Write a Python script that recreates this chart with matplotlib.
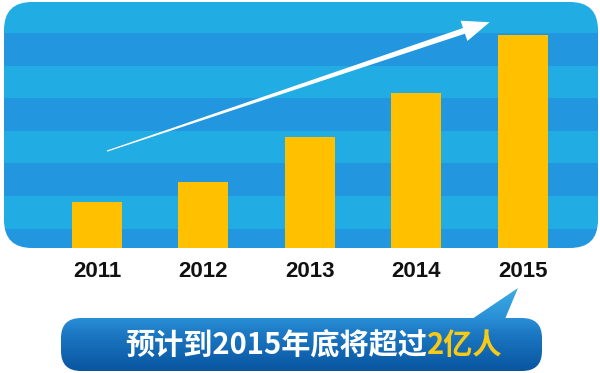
import numpy as np
import matplotlib
matplotlib.use("Agg")
import matplotlib.pyplot as plt
from matplotlib.patches import FancyBboxPatch, Polygon
from matplotlib.colors import LinearSegmentedColormap
from matplotlib.transforms import IdentityTransform, blended_transform_factory

# data (millions of users)
years = ["2011", "2012", "2013", "2014", "2015"]
users = [43, 62, 104, 146, 200]
caption_white = "预计到2015年底将超过"
caption_yellow = "2亿人"

W, H = 600, 373
fig = plt.figure(figsize=(W / 100, H / 100), dpi=100)
fig.patch.set_facecolor("white")

# panel layout in pixels (from top-left)
P_LEFT, P_RIGHT, P_TOP, P_BOT = 4, 598, 2, 248
ax = fig.add_axes([P_LEFT / W, (H - P_BOT) / H, (P_RIGHT - P_LEFT) / W, (P_BOT - P_TOP) / H])
ax.set_xlim(-0.874, 4.709)
ax.set_ylim(0, 231)
ax.axis("off")

# rounded clip for the striped panel
bb = ax.get_window_extent()
panel = FancyBboxPatch((bb.x0, bb.y0), bb.width, bb.height,
                       boxstyle="round,pad=0,rounding_size=28",
                       transform=IdentityTransform(), facecolor="none", edgecolor="none")
ax.add_patch(panel)

light, dark = "#21ace3", "#2396e0"
edges = [0, 18.3, 48.9, 79.5, 110.1, 140.7, 171.3, 201.9, 231]
for i in range(len(edges) - 1):
    sp = ax.axhspan(edges[i], edges[i + 1], color=dark if i % 2 == 0 else light, lw=0, zorder=0)
    sp.set_clip_path(panel)

x = np.arange(len(years))
bars = ax.bar(x, users, width=0.47, color="#ffc000", zorder=2)
for b in bars:
    b.set_clip_path(panel)

# tapered trend arrow
s = ax.transData.transform((0.094, 91))
t = ax.transData.transform((3.69, 212))
u = (t - s) / np.hypot(*(t - s))
n = np.array([-u[1], u[0]])
base = t - 27 * u
pts = [s + 0.6 * n, base + 3.0 * n, base + 10.7 * n, t,
       base - 10.7 * n, base - 3.0 * n, s - 0.6 * n]
ax.add_patch(Polygon(pts, closed=True, facecolor="white", edgecolor="none",
                     transform=IdentityTransform(), zorder=3))

# year labels
tr = blended_transform_factory(ax.transData, ax.transAxes)
for xi, yr in zip(x, years):
    ax.text(xi, -0.116, yr, transform=tr, ha="center", va="baseline",
            fontsize=16, fontweight="bold", family=["Liberation Sans", "DejaVu Sans"],
            color="#111111", clip_on=False)

# callout bubble (overlay axes in pixel units, y up)
ov = fig.add_axes([0, 0, 1, 1])
ov.set_xlim(0, W)
ov.set_ylim(0, H)
ov.axis("off")
ov.patch.set_alpha(0)

B_LEFT, B_RIGHT, B_TOP, B_BOT = 61, 542, 318, 371
pill = FancyBboxPatch((B_LEFT, H - B_BOT), B_RIGHT - B_LEFT, B_BOT - B_TOP,
                      boxstyle="round,pad=0,rounding_size=20",
                      facecolor="none", edgecolor="none")
ov.add_patch(pill)
tail = Polygon([(472, H - B_TOP - 1), (505, H - B_TOP - 1), (518, H - 288)],
               closed=True, facecolor="none", edgecolor="none")
ov.add_patch(tail)

cmap = LinearSegmentedColormap.from_list(
    "bub", [(0.0, "#3aade4"), (0.36, "#2a8fd6"), (0.55, "#1c78c3"), (1.0, "#0955a0")])
grad = np.linspace(0, 1, 200).reshape(-1, 1)
for clip in (pill, tail):
    im = ov.imshow(grad, cmap=cmap, aspect="auto",
                   extent=(B_LEFT, B_RIGHT, H - B_BOT, H - 288), origin="upper", zorder=1)
    im.set_clip_path(clip)
ov.set_xlim(0, W)
ov.set_ylim(0, H)

# two-colour caption, centred on the bubble
cjk = ["Noto Sans CJK SC", "DejaVu Sans"]
fs = 21
ty = H - 345
t1 = ov.text(0, ty, caption_white, color="white", fontsize=fs, fontweight="bold",
             family=cjk, ha="left", va="center", zorder=3)
t2 = ov.text(0, ty, caption_yellow, color="#f7ca18", fontsize=fs, fontweight="bold",
             family=cjk, ha="left", va="center", zorder=3)
r = fig.canvas.get_renderer()
w1 = t1.get_window_extent(r).width
w2 = t2.get_window_extent(r).width
x0 = 314 - (w1 + w2) / 2
t1.set_x(x0)
t2.set_x(x0 + w1)

fig.savefig("out.png", dpi=100, facecolor="white")
